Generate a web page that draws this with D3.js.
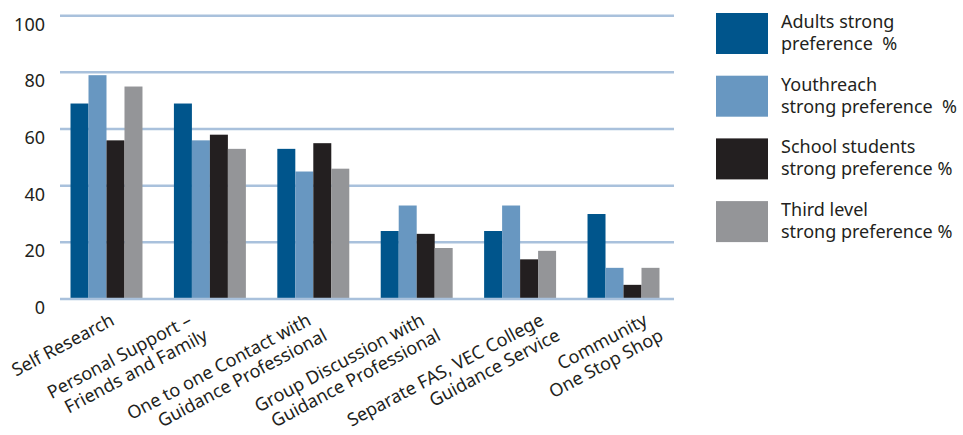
<!DOCTYPE html>
<html>
<head>
<meta charset="utf-8">
<script src="https://cdn.jsdelivr.net/npm/d3@7"></script>
<style>
  body { margin: 0; background: #fff; }
  text { font-family: "Noto Sans", sans-serif; fill: #231f20; }
</style>
</head>
<body>
<svg id="chart" width="963" height="435"></svg>
<script>
// categories, one entry per label line
const categories = [
  ['Self Research'],
  ['Personal Support –', 'Friends and Family'],
  ['One to one Contact with', 'Guidance Professional'],
  ['Group Discussion with', 'Guidance Professional'],
  ['Separate FAS, VEC College', 'Guidance Service'],
  ['Community', 'One Stop Shop']
]

const adults = [69, 69, 53, 24, 24, 30]
const youthreach = [79, 56, 45, 33, 33, 11]
const school = [56, 58, 55, 23, 14, 5]
const thirdLevel = [75, 53, 46, 18, 17, 11]

const seriesNames = [
  ['Adults strong', 'preference  %'],
  ['Youthreach', 'strong preference  %'],
  ['School students', 'strong preference %'],
  ['Third level', 'strong preference %']
]
const colors = ['#00558c', '#6897c1', '#231f20', '#949598']
const yTicks = [0, 20, 40, 60, 80, 100]

// the category labels are hand placed in the original, nudge them a bit
const labelNudge = [11, -15, 1, 11, 27, 27]

const series = [adults, youthreach, school, thirdLevel]
const keys = categories.map(c => c.join(' '))

const svg = d3.select('#chart')

const x = d3.scaleBand()
  .domain(keys)
  .range([58, 672])
  .paddingInner(0.304)
  .paddingOuter(0.121)

const xs = d3.scaleBand()
  .domain(d3.range(series.length))
  .range([0, x.bandwidth()])

const y = d3.scaleLinear()
  .domain([0, 100])
  .range([299, 15.7])

// gridlines
const grid = svg.append('g')
grid.selectAll('line')
  .data(yTicks.filter(d => d > 0))
  .join('line')
  .attr('x1', 60)
  .attr('x2', 674)
  .attr('y1', d => y(d))
  .attr('y2', d => y(d))
  .attr('stroke', '#a9c1dc')
  .attr('stroke-width', 2.5)

// tick labels
svg.append('g')
  .selectAll('text')
  .data(yTicks)
  .join('text')
  .attr('x', 45)
  .attr('y', d => y(d) + 15)
  .attr('text-anchor', 'end')
  .style('font-size', '18px')
  .text(d => d)

// bars
const groups = svg.append('g')
  .selectAll('g')
  .data(keys)
  .join('g')
  .attr('transform', d => `translate(${x(d)},0)`)

groups.selectAll('rect')
  .data((d, i) => series.map((s, j) => ({ j, v: s[i] })))
  .join('rect')
  .attr('x', d => xs(d.j))
  .attr('width', xs.bandwidth())
  .attr('y', d => y(d.v))
  .attr('height', d => y(0) - y(d.v))
  .attr('fill', d => colors[d.j])

// baseline over the bars
svg.append('line')
  .attr('x1', 60)
  .attr('x2', 674)
  .attr('y1', y(0))
  .attr('y2', y(0))
  .attr('stroke', '#a9c1dc')
  .attr('stroke-width', 2.5)

// rotated category labels
const labels = svg.append('g')
  .selectAll('g')
  .data(categories)
  .join('g')
  .attr('transform', (d, i) => `translate(${x(keys[i]) + x.bandwidth() / 2 + labelNudge[i] - 2},324) rotate(-28)`)

labels.selectAll('text')
  .data(d => d)
  .join('text')
  .attr('x', (d, k) => k * 7)
  .attr('y', (d, k) => k * 21)
  .attr('text-anchor', 'end')
  .style('font-size', '18px')
  .text(d => d)

// legend
const legend = svg.append('g')
  .selectAll('g')
  .data(seriesNames)
  .join('g')
  .attr('transform', (d, i) => `translate(716,${13 + i * 62.7})`)

legend.append('rect')
  .attr('width', 52)
  .attr('height', 41)
  .attr('fill', (d, i) => colors[i])

legend.selectAll('text')
  .data(d => d)
  .join('text')
  .attr('x', 65)
  .attr('y', (d, k) => 15 + k * 22)
  .style('font-size', '18px')
  .style('white-space', 'pre')
  .text(d => d)
</script>
</body>
</html>
